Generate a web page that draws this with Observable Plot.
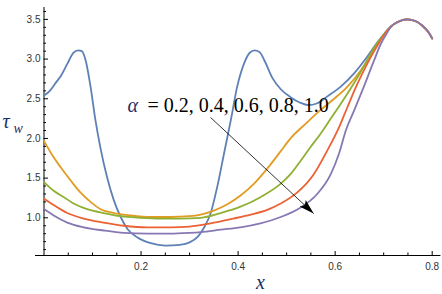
<!DOCTYPE html>
<html><head><meta charset="utf-8">
<script src="https://cdn.jsdelivr.net/npm/d3@7"></script>
<script src="https://cdn.jsdelivr.net/npm/@observablehq/plot@0.6"></script>
<style>body{margin:0;background:#fff} #chart svg{display:block}</style>
</head><body><div id="chart"></div>
<script>
// series labels and colours (Mathematica default palette)
const alphas = ["0.2", "0.4", "0.6", "0.8", "1.0"];
const colors = ["#5E81B5", "#E19C24", "#8FB032", "#EB6235", "#8778B3"];

// alpha = 0.2
const x02 = [0, 0.012, 0.024, 0.036, 0.048, 0.061, 0.07, 0.078, 0.086, 0.096, 0.106, 0.116, 0.13, 0.144, 0.158, 0.172, 0.192, 0.22, 0.25, 0.28, 0.30, 0.318, 0.332, 0.343, 0.357, 0.371, 0.385, 0.398, 0.412, 0.424, 0.434, 0.444, 0.456, 0.47, 0.488, 0.508, 0.528, 0.545, 0.562, 0.584, 0.611, 0.639, 0.666, 0.687, 0.70];
const t02 = [2.54, 2.60, 2.70, 2.80, 2.94, 3.08, 3.11, 3.10, 2.98, 2.65, 2.23, 1.89, 1.51, 1.22, 1.01, 0.86, 0.755, 0.68, 0.65, 0.66, 0.69, 0.77, 0.90, 1.05, 1.39, 1.81, 2.23, 2.65, 2.94, 3.08, 3.11, 3.09, 2.96, 2.77, 2.62, 2.52, 2.45, 2.42, 2.44, 2.53, 2.65, 2.82, 3.03, 3.21, 3.31];
// alpha = 0.4
const x04 = [0, 0.013, 0.034, 0.055, 0.075, 0.096, 0.116, 0.144, 0.178, 0.22, 0.26, 0.30, 0.323, 0.35, 0.378, 0.405, 0.433, 0.46, 0.488, 0.508, 0.54, 0.57, 0.598, 0.625, 0.653, 0.68, 0.70];
const t04 = [1.97, 1.83, 1.64, 1.47, 1.32, 1.20, 1.11, 1.06, 1.03, 1.01, 1.01, 1.02, 1.04, 1.09, 1.17, 1.28, 1.43, 1.62, 1.84, 2.00, 2.19, 2.36, 2.50, 2.65, 2.86, 3.11, 3.30];
// alpha = 0.6
const x06 = [0, 0.02, 0.041, 0.061, 0.089, 0.123, 0.158, 0.199, 0.24, 0.28, 0.323, 0.364, 0.405, 0.446, 0.488, 0.508, 0.529, 0.549, 0.57, 0.591, 0.612, 0.632, 0.653, 0.68, 0.70];
const t06 = [1.45, 1.34, 1.26, 1.18, 1.11, 1.06, 1.02, 1.00, 0.99, 0.99, 1.00, 1.06, 1.14, 1.26, 1.43, 1.55, 1.72, 1.89, 2.06, 2.25, 2.44, 2.63, 2.84, 3.14, 3.31];
// alpha = 0.8
const x08 = [0, 0.02, 0.048, 0.082, 0.123, 0.165, 0.213, 0.26, 0.30, 0.343, 0.39, 0.426, 0.46, 0.488, 0.522, 0.556, 0.584, 0.608, 0.625, 0.646, 0.666, 0.687, 0.70];
const t08 = [1.24, 1.16, 1.06, 0.99, 0.94, 0.90, 0.88, 0.88, 0.89, 0.93, 0.99, 1.04, 1.10, 1.18, 1.32, 1.55, 1.85, 2.14, 2.39, 2.69, 2.94, 3.17, 3.30];
// alpha = 1.0
const x10 = [0, 0.02, 0.048, 0.082, 0.123, 0.165, 0.213, 0.26, 0.30, 0.323, 0.364, 0.405, 0.446, 0.488, 0.529, 0.563, 0.591, 0.608, 0.622, 0.639, 0.659, 0.68, 0.694, 0.708];
const t10 = [1.11, 1.03, 0.94, 0.88, 0.84, 0.81, 0.80, 0.80, 0.81, 0.82, 0.85, 0.88, 0.93, 1.01, 1.13, 1.30, 1.55, 1.81, 2.10, 2.35, 2.65, 2.98, 3.19, 3.34];
// common tail shared by all curves
const tailX = [0.715, 0.73, 0.749, 0.765, 0.78, 0.792, 0.80];
const tailT = [3.41, 3.47, 3.50, 3.48, 3.42, 3.34, 3.26];

// axes ticks
const xTicks = [0.2, 0.4, 0.6, 0.8];
const xMinor = [0.05, 0.1, 0.15, 0.25, 0.3, 0.35, 0.45, 0.5, 0.55, 0.65, 0.7, 0.75];
const yTicks = [1.0, 1.5, 2.0, 2.5, 3.0, 3.5];
const yMinor = [0.6, 0.7, 0.8, 0.9, 1.1, 1.2, 1.3, 1.4, 1.6, 1.7, 1.8, 1.9, 2.1, 2.2, 2.3, 2.4, 2.6, 2.7, 2.8, 2.9, 3.1, 3.2, 3.3, 3.4, 3.6];

// annotation
const labelText = "= 0.2, 0.4, 0.6, 0.8, 1.0";
const labelPos = [{x: 0.172, y: 2.328}];
const arrowSeg = [{x1: 0.3433, y1: 2.264, x2: 0.5557, y2: 1.054}];

const xs = [x02, x04, x06, x08, x10];
const ts = [t02, t04, t06, t08, t10];
const rows = [];
alphas.forEach((a, i) => {
  xs[i].forEach((x, j) => rows.push({alpha: a, x, tau: ts[i][j]}));
  tailX.forEach((x, j) => rows.push({alpha: a, x, tau: tailT[j]}));
});

const yMin = 0.525, yMax = 3.65;
const serif = "'Liberation Serif', 'Times New Roman', serif";
const navy = "#1f2b66";

const chart = Plot.plot({
  width: 442, height: 294,
  marginLeft: 43.5, marginRight: 10.3, marginTop: 7, marginBottom: 39,
  x: {domain: [0, 0.8]},
  y: {domain: [yMin, yMax]},
  color: {domain: alphas, range: colors},
  style: {fontFamily: "'Liberation Sans', Arial, sans-serif", fontSize: "10px", color: "#333", background: "#fff"},
  marks: [
    Plot.ruleY([yMin], {x1: -0.0175, x2: 0.818, stroke: "#000", strokeWidth: 1}),
    Plot.ruleX([0], {y1: yMin, y2: yMax, stroke: "#000", strokeWidth: 1}),
    Plot.axisX(xTicks, {tickSize: -4, tickFormat: () => "", stroke: "#000"}),
    Plot.axisX(xMinor, {tickSize: -2.5, tickFormat: () => "", stroke: "#000"}),
    Plot.axisX(xTicks, {tickSize: 0, tickPadding: 7, tickFormat: d3.format(".1f"), fill: "#333"}),
    Plot.axisY(yTicks, {tickSize: -4.5, tickFormat: () => "", stroke: "#000"}),
    Plot.axisY(yMinor, {tickSize: -2.5, tickFormat: () => "", stroke: "#000"}),
    Plot.axisY(yTicks, {tickSize: 0, tickPadding: 3.5, tickFormat: d3.format(".1f"), fill: "#333", label: null}),
    Plot.line(rows, {x: "x", y: "tau", z: "alpha", stroke: "alpha", strokeWidth: 1.8, curve: "monotone-x"}),
    Plot.link(arrowSeg, {x1: "x1", y1: "y1", x2: "x2", y2: "y2", stroke: "#000", strokeWidth: 0.8}),
    Plot.text(labelPos, {x: "x", y: "y", text: () => "α", textAnchor: "start", lineAnchor: "bottom", fontFamily: serif, fontStyle: "italic", fontSize: 20, fill: navy}),
    Plot.text(labelPos, {x: "x", y: "y", dx: 20, text: () => labelText, textAnchor: "start", lineAnchor: "bottom", fontFamily: serif, fontSize: 20, fill: "#000"}),
    Plot.text(["τ"], {frameAnchor: "left", text: d => d, dx: -41.5, dy: -4, textAnchor: "start", lineAnchor: "bottom", fontFamily: serif, fontStyle: "italic", fontSize: 20, fill: navy}),
    Plot.text(["w"], {frameAnchor: "left", text: d => d, dx: -30.5, dy: 1, textAnchor: "start", lineAnchor: "bottom", fontFamily: serif, fontStyle: "italic", fontSize: 14, fill: navy}),
    Plot.text(["x"], {frameAnchor: "bottom", text: d => d, dx: 22.4, dy: 33, textAnchor: "middle", lineAnchor: "bottom", fontFamily: serif, fontStyle: "italic", fontSize: 20, fill: navy})
  ]
});

// filled arrowhead on the annotation link
const svg = d3.select(chart);
const defs = svg.insert("defs", ":first-child");
defs.append("marker")
  .attr("id", "ahead").attr("viewBox", "-15 -5 16 10")
  .attr("markerWidth", 16).attr("markerHeight", 10)
  .attr("refX", 0).attr("refY", 0).attr("orient", "auto")
  .attr("markerUnits", "userSpaceOnUse")
  .append("path").attr("d", "M-15,-4.5L0,0L-15,4.5L-12,0Z").attr("fill", "#000");
svg.selectAll('g[aria-label="link"] path').attr("marker-end", "url(#ahead)");

document.getElementById("chart").append(chart);
</script>
</body></html>
